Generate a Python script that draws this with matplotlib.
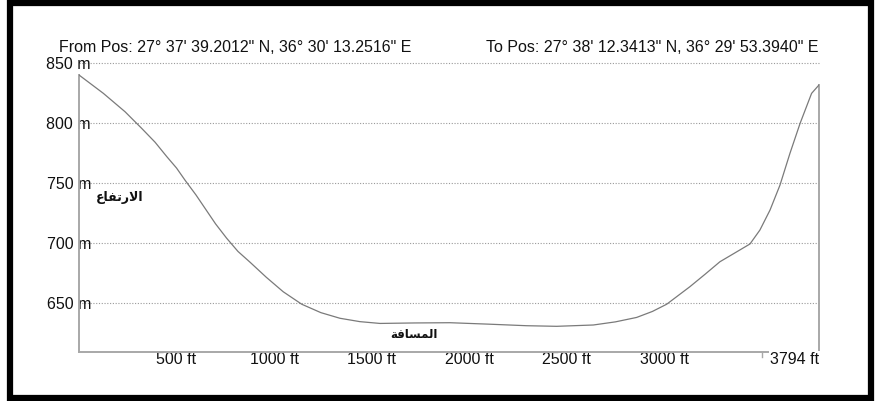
import matplotlib.pyplot as plt
from matplotlib.patches import Rectangle

# Profile data (distance in ft, elevation in m)
dist_ft = [0, 125, 236, 321, 390, 450, 500, 543, 600, 650, 700, 757, 815, 877, 960, 1047,
           1142, 1240, 1338, 1440, 1543, 1720, 1902, 2100, 2295, 2449, 2637, 2750, 2859,
           2940, 3013, 3132, 3210, 3286, 3360, 3440, 3491, 3543, 3594, 3645, 3697, 3756, 3794]
elev_m = [840, 824.7, 809.4, 795.6, 784, 772, 762.5, 752.5, 740, 728, 716, 704, 693, 684,
          671.5, 659.4, 649, 642, 637.3, 634.5, 633, 633.4, 633.6, 632.4, 631.1, 630.6, 631.7,
          634.3, 638, 643, 649, 663.6, 674, 684.4, 691.5, 699.2, 710.8, 727.5, 748.3, 774.7,
          799.7, 824.7, 831.7]

y_ticks = [650, 700, 750, 800, 850]
y_labels = ["650 m", "700 m", "750 m", "800 m", "850 m"]
x_ticks = [500, 1000, 1500, 2000, 2500, 3000]
x_labels = ["500 ft", "1000 ft", "1500 ft", "2000 ft", "2500 ft", "3000 ft"]
total_ft = 3794

from_pos = "From Pos: 27° 37' 39.2012\" N, 36° 30' 13.2516\" E"
to_pos = "To Pos: 27° 38' 12.3413\" N, 36° 29' 53.3940\" E"
# Arabic written with presentation forms in visual order (no shaping engine in matplotlib)
lbl_elev = "\uFEC9\uFE8E\uFED4\uFE97\uFEAD\uFEFB\uFE8D"   # الارتفاع
lbl_dist = "\uFE94\uFED3\uFE8E\uFEB4\uFEE4\uFEDF\uFE8D"   # المسافة

plt.rcParams['font.family'] = ['Liberation Sans', 'DejaVu Sans']

fig = plt.figure(figsize=(8.77, 4.01), dpi=100)
ax = fig.add_axes([79 / 877, 1 - 352 / 401, 740 / 877, 289 / 401])

ymin = 609.2
ax.set_xlim(0, total_ft)
ax.set_ylim(ymin, 850)

# dotted grid
for yv in y_ticks:
    ax.axhline(yv, color='#9a9a9a', lw=0.8, ls=(0, (1, 1.5)), clip_on=False, zorder=1)

# profile outline (left edge, bottom, right edge)
ax.plot([0, 0], [ymin, elev_m[0]], color='#a8a8a8', lw=1.4, clip_on=False, zorder=2)
ax.plot([0, total_ft], [ymin, ymin], color='#a8a8a8', lw=1.4, clip_on=False, zorder=2)
ax.plot([total_ft, total_ft], [ymin, elev_m[-1]], color='#a8a8a8', lw=1.4, clip_on=False, zorder=2)
ax.plot(dist_ft, elev_m, color='#7a7a7a', lw=0.9, zorder=3)
ax.axvline(3500, ymin=-0.018, ymax=0, color='#a8a8a8', lw=1, clip_on=False)

for s in ax.spines.values():
    s.set_visible(False)
ax.set_yticks(y_ticks)
ax.set_yticklabels(y_labels)
ax.set_xticks(x_ticks)
ax.set_xticklabels(x_labels)
ax.tick_params(axis='y', length=0, pad=-8.6, labelsize=11.5, labelcolor='#111111')
ax.tick_params(axis='x', length=0, pad=0, labelsize=11.5, labelcolor='#111111')
ax.text(total_ft, ymin, "3794 ft", ha='right', va='top', fontsize=11.5, color='#111111',
        transform=ax.transData, clip_on=False,
        bbox=dict(boxstyle='square,pad=0.05', fc='white', ec='none'))

fig.text(59 / 877, 1 - 47 / 401, from_pos, ha='left', va='center', fontsize=11.5, color='#111111')
fig.text(818 / 877, 1 - 47 / 401, to_pos, ha='right', va='center', fontsize=11.5, color='#111111')

fig.text(120 / 877, 1 - 198 / 401, lbl_elev, ha='center', va='center', fontsize=9,
         fontweight='bold', family=['DejaVu Sans'], color='#111111')
fig.text(414 / 877, 1 - 335 / 401, lbl_dist, ha='center', va='center', fontsize=8.5,
         fontweight='bold', family=['DejaVu Sans'], color='#111111')

# thick black frame around the picture
fig.patches.append(Rectangle((10 / 877, 1 - 397.5 / 401), 861 / 877, 394.5 / 401,
                             transform=fig.transFigure, fill=False, ec='black', lw=4.5))

fig.savefig('out.png', dpi=100)
